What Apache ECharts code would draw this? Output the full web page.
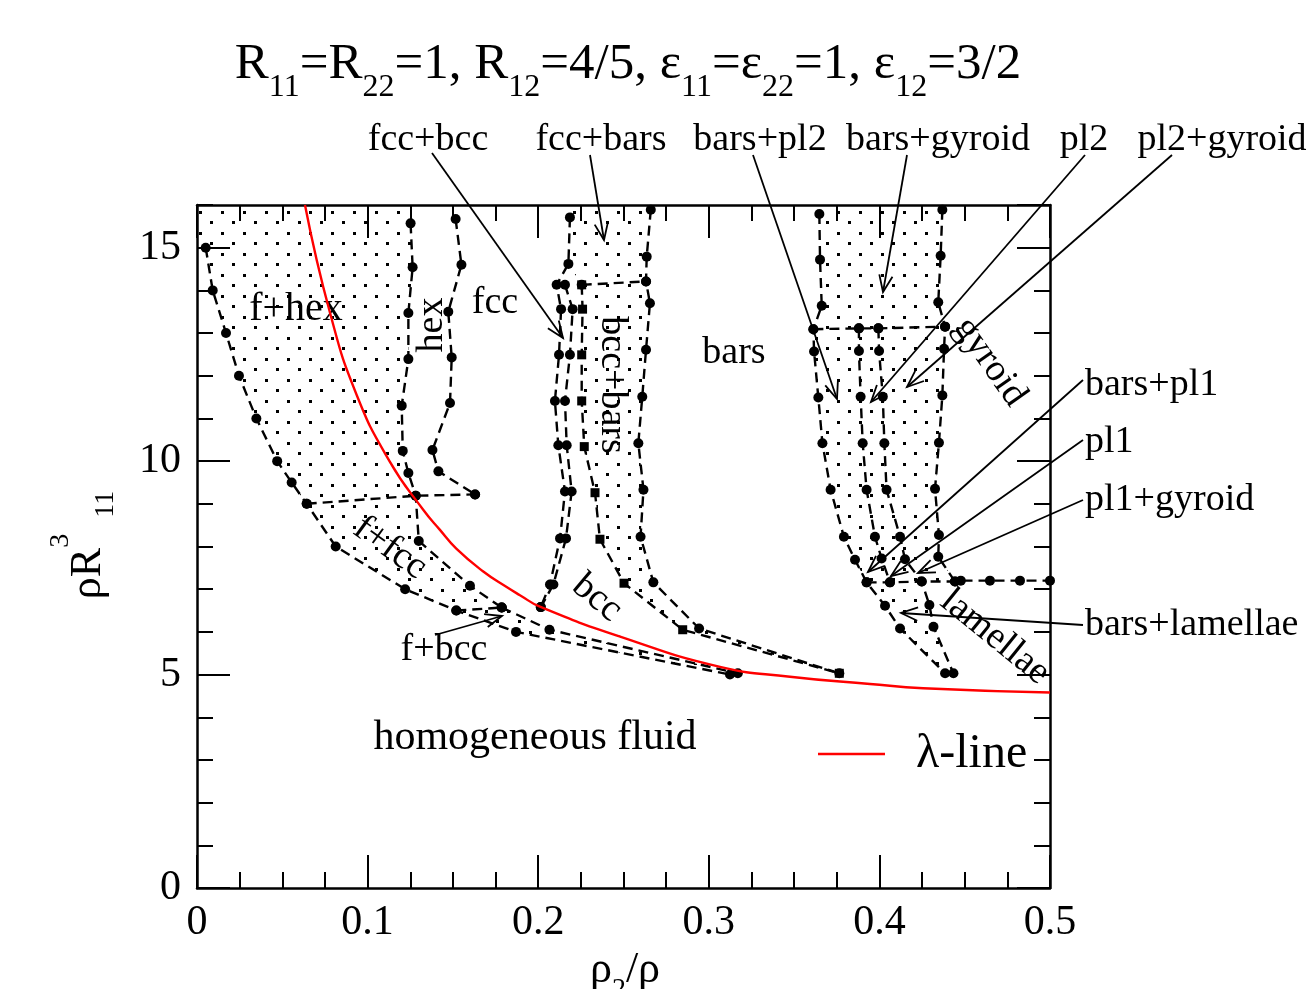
<!DOCTYPE html>
<html><head><meta charset="utf-8">
<script src="https://cdn.jsdelivr.net/npm/echarts@6/dist/echarts.min.js"></script>
<style>html,body{margin:0;padding:0;background:#fff;} #c{width:1315px;height:989px;}</style>
</head><body><div id="c"></div>
<script>
// ---------------- data ----------------
const xTickLabels = ['0', '0.1', '0.2', '0.3', '0.4', '0.5'];
const yTickLabels = ['0', '5', '10', '15'];

const fluidBoundary = [[0.0051,15],[0.0092,14],[0.017,13],[0.0246,12],[0.0348,11],[0.047,10],[0.0555,9.5],[0.0643,9],[0.0813,8],[0.122,7],[0.152,6.5],[0.187,6],[0.3124,5.0]];
const tripleHex = [[0.0643,9],[0.1282,9.19],[0.163,9.22]];
const hexLeft = [[0.1252,15.57],[0.1264,14.54],[0.1239,13.47],[0.1239,12.39],[0.12,11.3],[0.1206,10.24],[0.1239,9.72],[0.1282,9.19],[0.13,8.13],[0.16,7.08],[0.1786,6.57]];
const hexRight = [[0.1516,15.67],[0.155,14.6],[0.1473,13.5],[0.1493,12.43],[0.1483,11.36],[0.138,10.26],[0.1415,9.76],[0.163,9.22]];
const tripleBcc = [[0.152,6.5],[0.1786,6.57]];
const bccFluidSide = [[0.1786,6.57],[0.2066,6.05],[0.317,5.03]];
const fccBccLeft = [[0.2186,15.71],[0.2177,14.62],[0.2108,14.13],[0.2134,13.56],[0.2122,12.49],[0.2098,11.41],[0.2118,10.37],[0.2157,9.29],[0.2128,8.19],[0.2069,7.11],[0.2015,6.58]];
const fccBccRight = [[0.2157,14.13],[0.2202,13.56],[0.2186,12.49],[0.2157,11.41],[0.2167,10.37],[0.2196,9.29],[0.2163,8.19],[0.2089,7.11],[0.2015,6.58]];
const bccBars = [[0.2255,14.13],[0.226,13.56],[0.2255,12.49],[0.2255,11.41],[0.227,10.34],[0.2333,9.26],[0.2362,8.17],[0.2503,7.14],[0.2847,6.05],[0.3765,5.03]];
const fccBarsTie = [[0.2255,14.13],[0.2632,14.21]];
const barsLeft = [[0.266,15.89],[0.2636,14.79],[0.2632,14.21],[0.2655,13.7],[0.2632,12.61],[0.261,11.51],[0.2587,10.42],[0.2617,9.33],[0.26,8.23],[0.2675,7.16],[0.2943,6.08],[0.3765,5.03]];
const barsRight = [[0.3648,15.79],[0.3652,14.72],[0.3662,13.64],[0.3613,13.09],[0.3617,12.57],[0.3642,11.49],[0.3666,10.42],[0.3714,9.33],[0.3792,8.23],[0.3857,7.69],[0.3925,7.16],[0.4033,6.61],[0.4121,6.08],[0.4385,5.03]];
const plLeft = [[0.388,13.11],[0.388,12.58],[0.389,11.51],[0.3902,10.42],[0.3925,9.33],[0.3974,8.23],[0.4013,7.72],[0.4062,7.16]];
const plRight = [[0.3994,13.11],[0.3998,12.58],[0.402,11.51],[0.4029,10.42],[0.4042,9.33],[0.4121,8.23],[0.415,7.7],[0.4248,7.18],[0.4293,6.63],[0.4317,6.12],[0.4434,5.03]];
const gyroidLeft = [[0.4369,15.89],[0.4359,14.81],[0.4345,13.72],[0.4385,13.15],[0.4379,12.63],[0.4369,11.54],[0.4349,10.43],[0.4326,9.35],[0.4349,8.27],[0.4345,7.76],[0.4443,7.18]];
const gyroidTie = [[0.3613,13.09],[0.388,13.11],[0.3994,13.11],[0.4385,13.15]];
const lamellaeTie = [[0.3925,7.16],[0.4062,7.16],[0.4248,7.18],[0.4443,7.18],[0.4477,7.2],[0.4648,7.2],[0.4824,7.2],[0.5,7.2]];
const lambdaLine = [[0.0633,16],[0.078,13.47],[0.0936,11.55],[0.113,9.99],[0.1326,8.86],[0.1424,8.39],[0.152,7.95],[0.1676,7.42],[0.1815,7.05],[0.1893,6.86],[0.201,6.59],[0.248,5.89],[0.3066,5.18],[0.3476,4.95],[0.3945,4.78],[0.4257,4.68],[0.5,4.58]];

// ---------------- coexistence regions built from the boundaries ----------------
const regionFHex = [[0,16],[0,15]].concat(fluidBoundary.slice(0,8), [tripleHex[1]], hexLeft.slice(0,8).reverse(), [[hexLeft[0][0],16]]);
const regionFFcc = fluidBoundary.slice(7,11).concat(hexLeft.slice(7).reverse());
const regionFBcc = fluidBoundary.slice(10).concat(bccFluidSide.slice().reverse());
const regionFccBars = [[fccBccLeft[0][0],16], fccBccLeft[0], fccBccLeft[1], fccBarsTie[0], fccBarsTie[1], barsLeft[2], barsLeft[1], barsLeft[0], [barsLeft[0][0],16]];
const regionBccBars = bccBars.concat(barsLeft.slice(2).reverse());
const regionBarsGyroid = [[barsRight[0][0],16]].concat(barsRight.slice(0,11), lamellaeTie.slice(1,3), gyroidLeft.slice().reverse(), [[gyroidLeft[0][0],16]]);
const regionBarsLam = barsRight.slice(10).concat(plRight.slice(7).reverse());
const regions = [regionFHex, regionFFcc, regionFBcc, regionFccBars, regionBccBars, regionBarsGyroid, regionBarsLam];

const circleLines = [fluidBoundary, tripleHex, hexLeft, hexRight, tripleBcc, bccFluidSide, fccBccLeft, fccBccRight, fccBarsTie, barsLeft, barsRight, plLeft, plRight, gyroidLeft, gyroidTie, lamellaeTie];

// ---------------- rendering ----------------
const SERIF = '"Liberation Serif","DejaVu Serif",serif';
const chart = echarts.init(document.getElementById('c'), null, {renderer: 'canvas'});

const pat = document.createElement('canvas');
pat.width = 22; pat.height = 21;
const pg = pat.getContext('2d');
pg.fillStyle = '#000';
pg.fillRect(1, 1, 3, 3);
pg.fillRect(12, 11, 3, 3);

const dash = [10, 6];
function boundarySeries(data, symbol, size) {
  return {
    type: 'line', data: data, symbol: symbol, symbolSize: size, showSymbol: true,
    itemStyle: {color: '#000'}, lineStyle: {color: '#000', width: 2.4, type: dash},
    z: 3, silent: true, animation: false, clip: true, emphasis: {disabled: true}
  };
}

const series = [{
  type: 'custom', coordinateSystem: 'cartesian2d', silent: true, z: 1, clip: true, animation: false,
  data: regions.map((r, i) => [i, 0]),
  renderItem: function (params, api) {
    const pts = regions[params.dataIndex].map(p => api.coord(p));
    return {type: 'polygon', shape: {points: pts}, style: {fill: {image: pat, repeat: 'repeat'}, stroke: null}};
  }
}];
circleLines.forEach(d => series.push(boundarySeries(d, 'circle', 10)));
series.push(boundarySeries(bccBars, 'rect', 9));
series.push({
  type: 'line', name: 'λ-line', data: lambdaLine, smooth: 0.5, symbol: 'none', showSymbol: false,
  lineStyle: {color: '#ff0000', width: 2.4}, itemStyle: {color: '#ff0000'}, z: 4, silent: true, animation: false, clip: true
});

function xAxisDef(pos, labels) {
  return {
    type: 'value', min: 0, max: 0.5, interval: 0.1, position: pos,
    axisLine: {show: true, onZero: false, lineStyle: {color: '#000', width: 2.5}},
    axisTick: {show: true, inside: true, length: 33, lineStyle: {color: '#000', width: 2}},
    minorTick: {show: true, splitNumber: 4, length: 16, lineStyle: {color: '#000', width: 2}},
    splitLine: {show: false}, minorSplitLine: {show: false},
    axisLabel: {show: labels, formatter: (v, i) => xTickLabels[i] || '', fontSize: 42, fontFamily: SERIF, color: '#000', margin: 14}
  };
}
function yAxisDef(pos, interval, tickLen, labels, line) {
  return {
    type: 'value', min: 0, max: 16, interval: interval, position: pos,
    axisLine: {show: line, onZero: false, lineStyle: {color: '#000', width: 2.5}},
    axisTick: {show: true, inside: true, length: tickLen, lineStyle: {color: '#000', width: 2}},
    splitLine: {show: false},
    axisLabel: {show: labels, showMaxLabel: false, formatter: (v, i) => yTickLabels[i] || '', fontSize: 42, fontFamily: SERIF, color: '#000', margin: 16}
  };
}

// annotations (pixel layout)
const graphics = [];
function addText(x, y, text, size, rot, align) {
  graphics.push({type: 'text', x: x, y: y, rotation: (rot || 0) * Math.PI / 180, silent: true,
    style: {text: text, font: size + 'px ' + SERIF, fill: '#000', align: align || 'center', verticalAlign: 'middle'}});
}
function addArrow(x0, y0, x1, y1) {
  const a = Math.atan2(y0 - y1, x0 - x1), L = 18, h = 0.38;
  graphics.push({type: 'polyline', silent: true, shape: {points: [[x0, y0], [x1, y1]]}, style: {stroke: '#000', lineWidth: 1.8, fill: null}});
  graphics.push({type: 'polyline', silent: true, shape: {points: [
    [x1 + L * Math.cos(a + h), y1 + L * Math.sin(a + h)], [x1, y1], [x1 + L * Math.cos(a - h), y1 + L * Math.sin(a - h)]]},
    style: {stroke: '#000', lineWidth: 1.8, fill: null}});
}
const topLabels = [['fcc+bcc', 428, 432, 153, 563, 338], ['fcc+bars', 601, 590, 155, 604, 240], ['bars+pl2', 760, 753, 155, 837, 399],
  ['bars+gyroid', 938, 907, 155, 883, 292], ['pl2', 1084, 1085, 155, 871, 402], ['pl2+gyroid', 1222, 1172, 155, 907, 387]];
topLabels.forEach(t => { addText(t[1], 140, t[0], 38); addArrow(t[2], t[3], t[4], t[5]); });
const rightLabels = [['bars+pl1', 385, 380, 868, 572], ['pl1', 442, 440, 891, 576], ['pl1+gyroid', 500, 500, 918, 573], ['bars+lamellae', 625, 625, 901, 613]];
rightLabels.forEach(t => { addText(1085, t[1], t[0], 38, 0, 'left'); addArrow(1083, t[2], t[3], t[4]); });
addText(444, 650, 'f+bcc', 38); addArrow(435, 635, 502, 616);
addText(296, 309, 'f+hex', 40);
addText(432, 325, 'hex', 38, 90);
addText(495, 303, 'fcc', 38);
addText(612, 385, 'bcc+bars', 38, -90);
addText(734, 353, 'bars', 38);
addText(990, 362, 'gyroid', 38, -55);
addText(390, 548, 'f+fcc', 38, -36);
addText(597, 598, 'bcc', 38, -40);
addText(995, 637, 'lamellae', 38, -39);
addText(535, 738, 'homogeneous fluid', 42);
// axis names
graphics.push({type: 'text', x: 98, y: 545, rotation: Math.PI / 2, silent: true, style: {
  text: '{m|ρR}{p|3}{s|11}', align: 'center', verticalAlign: 'middle',
  rich: {m: {font: '44px ' + SERIF, lineHeight: 44, padding: [0, 0, 10, 0], verticalAlign: 'bottom', fill: '#000'},
         p: {font: '28px ' + SERIF, lineHeight: 28, padding: [0, 2, 45, 0], verticalAlign: 'bottom', fill: '#000'},
         s: {font: '28px ' + SERIF, lineHeight: 28, padding: [0, 0, 0, 14], verticalAlign: 'bottom', fill: '#000'}}}});
graphics.push({type: 'text', x: 625, y: 960, silent: true, style: {
  text: '{m|ρ}{s|2}{m|/ρ}', align: 'center', verticalAlign: 'top',
  rich: {m: {font: '44px ' + SERIF, lineHeight: 44, padding: [0, 0, 12, 0], verticalAlign: 'bottom', fill: '#000'},
         s: {font: '28px ' + SERIF, lineHeight: 28, verticalAlign: 'bottom', fill: '#000'}}}});

chart.setOption({
  animation: false,
  backgroundColor: '#fff',
  textStyle: {fontFamily: SERIF},
  title: {
    text: '{m|R}{s|11}{m|=R}{s|22}{m|=1, R}{s|12}{m|=4/5, ε}{s|11}{m|=ε}{s|22}{m|=1, ε}{s|12}{m|=3/2}',
    left: 623, top: 48, textAlign: 'center',
    textStyle: {fontWeight: 'normal', rich: {
      m: {fontSize: 51, fontWeight: 'normal', fontFamily: SERIF, color: '#000', lineHeight: 51, padding: [0, 0, 14, 0], verticalAlign: 'bottom'},
      s: {fontSize: 32, fontWeight: 'normal', fontFamily: SERIF, color: '#000', lineHeight: 32, verticalAlign: 'bottom'}}}
  },
  legend: {
    data: [{name: 'λ-line', icon: 'rect'}], left: 813, top: 725, itemWidth: 67, itemHeight: 2.5, selectedMode: false,
    formatter: '{t|{name}}',
    textStyle: {rich: {t: {fontSize: 48, fontFamily: SERIF, color: '#000', padding: [0, 0, 0, 26]}}}
  },
  grid: {left: 197, right: 265, top: 205, bottom: 101, containLabel: false, outerBoundsMode: 'none'},
  xAxis: [xAxisDef('bottom', true), xAxisDef('top', false)],
  yAxis: [yAxisDef('left', 5, 33, true, true), yAxisDef('left', 1, 16, false, false),
          yAxisDef('right', 5, 33, false, true), yAxisDef('right', 1, 16, false, false)],
  series: series,
  graphic: graphics
});
</script></body></html>
